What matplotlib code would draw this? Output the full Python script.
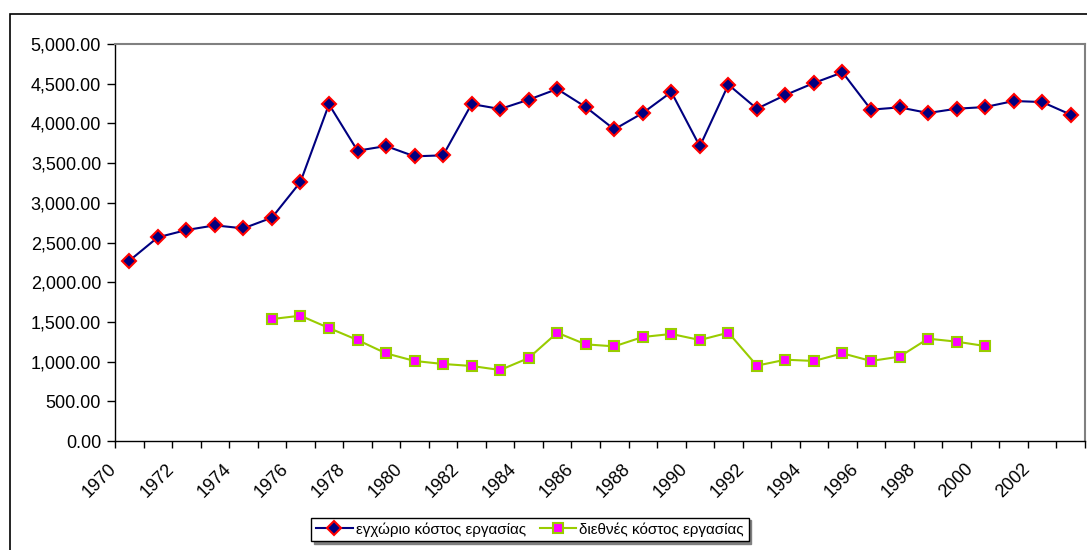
import numpy as np
import matplotlib
matplotlib.use("Agg")
import matplotlib.pyplot as plt
import matplotlib.transforms as mtransforms
from matplotlib.patches import Rectangle
from matplotlib.ticker import FuncFormatter

plt.rcParams['font.family'] = ['Liberation Sans', 'DejaVu Sans']

# Δεδομένα
years = list(range(1970, 2004))
local_cost = [2270, 2565, 2657, 2716, 2678, 2813, 3262, 4240, 3656, 3715,
              3585, 3598, 4244, 4181, 4299, 4433, 4206, 3925, 4131, 4395,
              3711, 4488, 4185, 4358, 4509, 4643, 4173, 4202, 4131, 4185,
              4206, 4282, 4269, 4110]
intl_cost = [None, None, None, None, None, 1536, 1578, 1423, 1272, 1104,
             1008, 970, 945, 894, 1045, 1364, 1217, 1192, 1310, 1348,
             1272, 1364, 949, 1024, 1008, 1104, 1008, 1062, 1289, 1251,
             1196, None, None, None]
label_local = "εγχώριο κόστος εργασίας"
label_intl = "διεθνές κόστος εργασίας"

x = np.arange(len(years))
intl = np.array([np.nan if v is None else v for v in intl_cost], dtype=float)

fig = plt.figure(figsize=(10.87, 5.5), dpi=100)
ax = fig.add_axes([115/1087, 109/550, 970/1087, 397/550])

# εξωτερικό πλαίσιο
fig.patches.append(Rectangle((10/1087, -0.05), 1.1, 1 - 14/550 + 0.05,
                             transform=fig.transFigure, fill=False,
                             edgecolor='black', linewidth=1.2))

ax.plot(x, local_cost, color='#000080', linewidth=1.5, marker='D',
        markersize=7, markerfacecolor='#000080', markeredgecolor='#FF0000',
        markeredgewidth=1.5, label=label_local)
ax.plot(x, intl, color='#99CC00', linewidth=1.5, marker='s',
        markersize=7, markerfacecolor='#FF00FF', markeredgecolor='#99CC00',
        markeredgewidth=1.5, label=label_intl)

ax.set_xlim(-0.5, len(years) - 0.5)
ax.set_ylim(0, 5000)
ax.set_yticks(np.arange(0, 5001, 500))
ax.yaxis.set_major_formatter(FuncFormatter(lambda v, p: f"{v:,.2f}"))

# υποδιαιρέσεις μεταξύ κατηγοριών, ετικέτες ανά δύο έτη
ax.set_xticks(np.arange(-0.5, len(years), 1.0), minor=True)
ax.set_xticks(x[::2])
ax.set_xticklabels([str(y) for y in years[::2]], rotation=45, ha='right',
                   va='top', fontsize=13)
ax.tick_params(axis='x', which='major', length=0, pad=14)
ax.tick_params(axis='x', which='minor', length=5, width=1)
ax.tick_params(axis='y', length=6, width=1, labelsize=13, pad=4)
offset = mtransforms.ScaledTranslation(-9/100, 0, fig.dpi_scale_trans)
for lbl in ax.get_xticklabels():
    lbl.set_transform(lbl.get_transform() + offset)

for side in ['top', 'right']:
    ax.spines[side].set_color('#808080')
    ax.spines[side].set_linewidth(1.5)
for side in ['left', 'bottom']:
    ax.spines[side].set_color('black')
    ax.spines[side].set_linewidth(1)

leg = fig.legend(loc='center', bbox_to_anchor=(530/1087, 1 - 529.5/550),
                 ncol=2, fontsize=11, frameon=True, fancybox=False,
                 shadow={'color': '#808080', 'alpha': 1.0}, framealpha=1.0,
                 edgecolor='black', handlelength=2.4,
                 columnspacing=0.9, handletextpad=0.2, borderpad=0.3)
leg.get_frame().set_linewidth(1)

fig.savefig("out.png", dpi=100)
